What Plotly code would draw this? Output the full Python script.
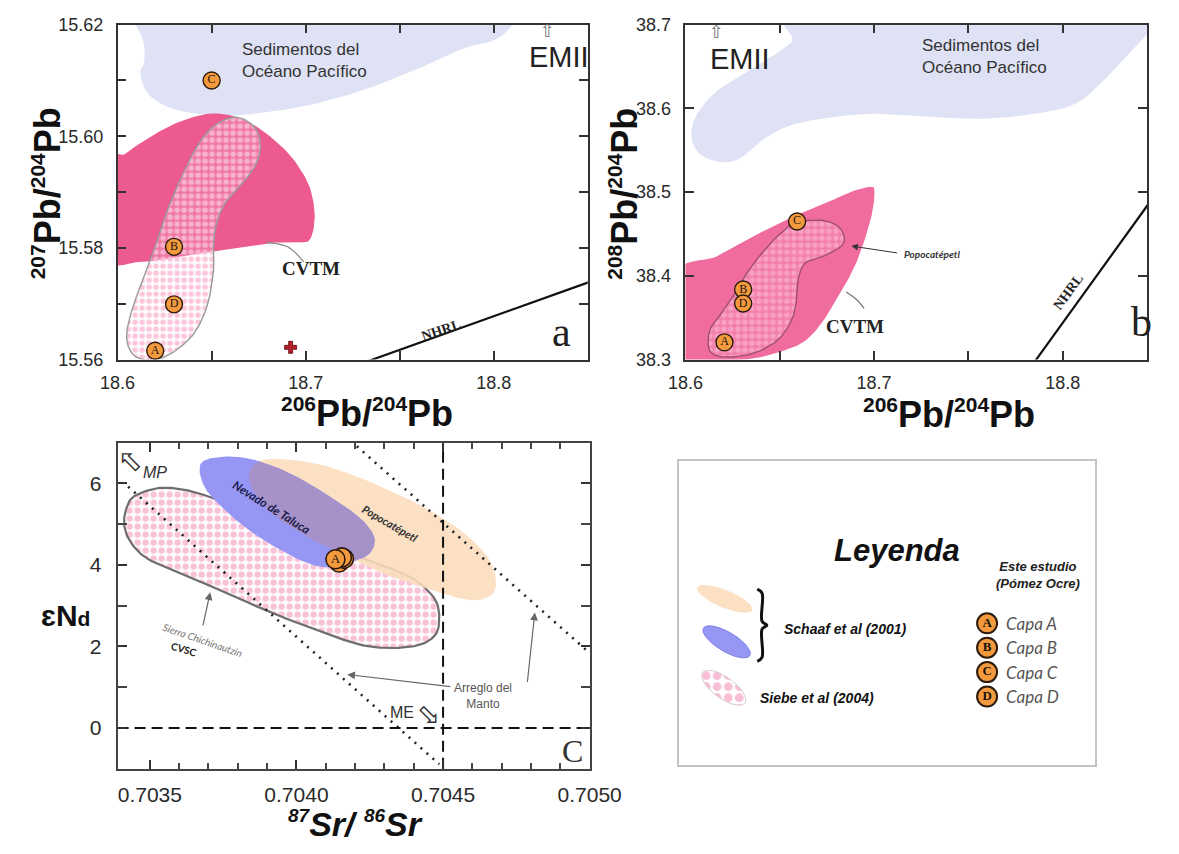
import numpy as np
import plotly.graph_objects as go

SANS = "Liberation Sans, Arial, sans-serif"
SERIF = "Liberation Serif, Times New Roman, serif"
GEOM = "Lato, Open Sans, sans-serif"
ARROWS = "DejaVu Sans, sans-serif"

ORANGE = "#f39a3f"
MAGENTA_A = "#ec5a8f"
MAGENTA_B = "#f06c9e"
PACIFIC = "#dfe2f5"
PEACH = "rgba(251,220,188,0.88)"
BLUE = "#9696f5"
OVERLAP = "#a692c8"

W, H = 1179, 854

# ---------------- Panel a: 207Pb/204Pb vs 206Pb/204Pb ----------------
sample_labels = ["A", "B", "C", "D"]
a_pb206 = [18.620, 18.630, 18.650, 18.630]
a_pb207 = [15.5616, 15.5802, 15.6100, 15.5699]
a_cross_pb206 = [18.692]
a_cross_pb207 = [15.5622]

a_pacific_pb206 = [18.610, 18.6144, 18.6121, 18.6154, 18.625, 18.6404, 18.6596, 18.6788,
                   18.7019, 18.7308, 18.7596, 18.7827, 18.8100, 18.835]
a_pacific_pb207 = [15.640, 15.6158, 15.6117, 15.6080, 15.6055, 15.6041, 15.6037, 15.6043,
                   15.6056, 15.6083, 15.6121, 15.6156, 15.6200, 15.640]

a_cvtm_pb206 = [18.595, 18.595, 18.6115, 18.631, 18.650, 18.667, 18.681, 18.694, 18.702,
                18.7048, 18.7029, 18.6981, 18.6904, 18.6788, 18.6673, 18.6558, 18.6442,
                18.6288, 18.6135, 18.6038]
a_cvtm_pb207 = [15.5953, 15.5785, 15.5775, 15.5784, 15.5793, 15.5802, 15.5809, 15.5811, 15.5814,
                15.5854, 15.5901, 15.5936, 15.5971, 15.6006, 15.6029, 15.6040, 15.6038,
                15.6020, 15.5991, 15.5968]

a_popo_pb206 = [18.6635, 18.6731, 18.676, 18.6731, 18.6654, 18.6577, 18.6529, 18.651, 18.651,
                18.6481, 18.6423, 18.6346, 18.625, 18.6154, 18.6077, 18.6048, 18.6077, 18.6135,
                18.6192, 18.625, 18.6327, 18.6423, 18.6519]
a_popo_pb207 = [15.6034, 15.6015, 15.5982, 15.5947, 15.5912, 15.5883, 15.5848, 15.5807, 15.5760,
                15.5702, 15.5655, 15.5626, 15.5605, 15.5599, 15.5611, 15.5643, 15.5690, 15.5743,
                15.5795, 15.5854, 15.5918, 15.5982, 15.6020]

a_leader_pb206 = [18.6788, 18.6904, 18.699]
a_leader_pb207 = [15.5810, 15.5802, 15.5775]

a_nhrl_pb206 = [18.733, 18.860]
a_nhrl_pb207 = [15.5597, 15.5750]

a_xticks = [18.60, 18.65, 18.70, 18.75, 18.80, 18.85]
a_xtext = ["18.6", "", "18.7", "", "18.8", ""]
a_yticks = [15.56, 15.57, 15.58, 15.59, 15.60, 15.61, 15.62]
a_ytext = ["15.56", "", "15.58", "", "15.60", "", "15.62"]

# ---------------- Panel b: 208Pb/204Pb vs 206Pb/204Pb ----------------
b_pb206 = [18.6207, 18.6306, 18.6592, 18.6306]
b_pb208 = [38.3206, 38.3837, 38.4650, 38.3670]

b_pacific_pb206 = [18.670, 18.656, 18.6353, 18.6165, 18.6053, 18.6034, 18.609, 18.6203, 18.6297,
                   18.641, 18.656, 18.6786, 18.7011, 18.7293, 18.7575, 18.7857, 18.8064, 18.8195,
                   18.8327, 18.844, 18.8515, 18.870]
b_pacific_pb208 = [38.720, 38.6787, 38.6477, 38.6206, 38.5897, 38.5626, 38.5432, 38.5355, 38.5413,
                   38.5626, 38.5800, 38.5897, 38.5935, 38.5897, 38.5877, 38.5935, 38.6051, 38.6284,
                   38.6593, 38.6864, 38.710, 38.730]

b_cvtm_pb206 = [18.595, 18.6165, 18.6353, 18.656, 18.6729, 18.688, 18.6983, 18.7002, 18.6992,
                18.6955, 18.6898, 18.6823, 18.6729, 18.6635, 18.6523, 18.6353, 18.6071, 18.595]
b_cvtm_pb208 = [38.402, 38.4232, 38.4464, 38.4696, 38.4851, 38.5006, 38.5064, 38.5006, 38.4774,
                38.4464, 38.4116, 38.3806, 38.3458, 38.3225, 38.3109, 38.3012, 38.2970, 38.2970]

b_popo_pb206 = [18.6579, 18.6711, 18.6805, 18.6842, 18.6823, 18.6729, 18.6635, 18.6598, 18.6588,
                18.656, 18.6485, 18.6353, 18.6203, 18.6128, 18.6128, 18.6184, 18.6259, 18.6316,
                18.6391, 18.6466, 18.6532]
b_popo_pb208 = [38.4638, 38.4666, 38.4600, 38.4464, 38.4348, 38.4232, 38.4154, 38.3961, 38.3690,
                38.3458, 38.3225, 38.3070, 38.3032, 38.3109, 38.3342, 38.3535, 38.3767, 38.4000,
                38.4232, 38.4426, 38.4561]

b_leader_pb206 = [18.6852, 18.6905, 18.6947]
b_leader_pb208 = [38.3806, 38.3720, 38.3613]

b_nhrl_pb206 = [18.785, 18.850]
b_nhrl_pb208 = [38.297, 38.500]

b_xticks = [18.60, 18.65, 18.70, 18.75, 18.80]
b_xtext = ["18.6", "", "18.7", "", "18.8"]
b_yticks = [38.3, 38.4, 38.5, 38.6, 38.7]
b_ytext = ["38.3", "38.4", "38.5", "38.6", "38.7"]

# ---------------- Panel c: eNd vs 87Sr/86Sr ----------------
c_sr = [0.704133, 0.704155, 0.704162, 0.704145]
c_nd = [4.139, 4.185, 4.150, 4.060]

c_cvsc_sr = [0.703419, 0.703446, 0.703526, 0.703606, 0.703699, 0.703846, 0.703980, 0.704113,
             0.704220, 0.704313, 0.704407, 0.704473, 0.704487, 0.704473, 0.704420, 0.704326,
             0.704220, 0.704086, 0.703913, 0.703740, 0.703580, 0.703486, 0.703433, 0.703413]
c_cvsc_nd = [5.367, 5.683, 5.881, 5.857, 5.683, 5.287, 4.891, 4.496,
             4.179, 3.941, 3.625, 3.150, 2.675, 2.279, 2.041, 1.962,
             2.041, 2.358, 2.833, 3.387, 3.862, 4.179, 4.575, 4.971]

c_popo_sr = [0.703900, 0.704046, 0.704180, 0.704313, 0.704447, 0.704580, 0.704660, 0.704680,
             0.704647, 0.704580, 0.704460, 0.704326, 0.704180, 0.704046, 0.703913, 0.703846,
             0.703844]
c_popo_nd = [6.594, 6.515, 6.238, 5.842, 5.367, 4.733, 4.100, 3.466,
             3.189, 3.150, 3.387, 3.704, 4.179, 4.654, 5.287, 5.921,
             6.356]

c_toluca_sr = [0.703673, 0.703740, 0.703846, 0.703980, 0.704113, 0.704220, 0.704266, 0.704246,
               0.704180, 0.704113, 0.704046, 0.703953, 0.703846, 0.703753, 0.703686]
c_toluca_nd = [6.475, 6.649, 6.594, 6.238, 5.683, 5.129, 4.654, 4.258,
               4.060, 3.941, 4.021, 4.337, 4.812, 5.367, 5.921]

c_mantle1_sr = [0.703426, 0.704487]
c_mantle1_nd = [5.921, -0.888]
c_mantle2_sr = [0.704206, 0.704993]
c_mantle2_nd = [6.911, 1.883]

c_bulk_sr = 0.7045
c_chur_nd = 0.0

c_xrange = [0.70339, 0.70500]
c_yrange = [-1.0, 7.0]
c_xticks = [0.7035, 0.7040, 0.7045, 0.7050]
c_xtext = ["0.7035", "0.7040", "0.7045", "0.7050"]
c_xminor = [0.7036, 0.7037, 0.7038, 0.7039, 0.7041, 0.7042, 0.7043, 0.7044,
            0.7046, 0.7047, 0.7048, 0.7049]
c_yticks = [0, 2, 4, 6]
c_ytext = ["0", "2", "4", "6"]
c_yminor = [1, 3, 5]

# ---------------- Legend ----------------
legend_samples = ["Capa A", "Capa B", "Capa C", "Capa D"]


def smooth_closed(xs, ys, n=10):
    """Closed Catmull-Rom curve through the outline vertices."""
    p = np.column_stack([xs, ys]).astype(float)
    m = len(p)
    out = []
    for i in range(m):
        p0, p1, p2, p3 = p[(i - 1) % m], p[i], p[(i + 1) % m], p[(i + 2) % m]
        for t in np.linspace(0, 1, n, endpoint=False):
            t2, t3 = t * t, t * t * t
            out.append(0.5 * ((2 * p1) + (-p0 + p2) * t + (2 * p0 - 5 * p1 + 4 * p2 - p3) * t2
                              + (-p0 + 3 * p1 - 3 * p2 + p3) * t3))
    out.append(out[0])
    out = np.array(out)
    return out[:, 0], out[:, 1]


def clip_polygon(subject, clip):
    """Sutherland-Hodgman clipping of one outline by a convex one."""
    def cross(u, v):
        return u[0] * v[1] - u[1] * v[0]

    c = np.asarray(clip, float)
    area = 0.5 * np.sum(c[:, 0] * np.roll(c[:, 1], -1) - np.roll(c[:, 0], -1) * c[:, 1])
    s = 1.0 if area > 0 else -1.0
    output = [np.asarray(pt, float) for pt in subject]
    for i in range(len(c)):
        a, b = c[i], c[(i + 1) % len(c)]
        e = b - a
        inp, output = output, []
        if not inp:
            break

        def inside(pt):
            return s * cross(e, pt - a) >= 0

        def inter(pp, qq):
            d = qq - pp
            t = cross(e, a - pp) / cross(e, d)
            return pp + t * d

        prev = inp[-1]
        for cur in inp:
            if inside(cur):
                if not inside(prev):
                    output.append(inter(prev, cur))
                output.append(cur)
            elif inside(prev):
                output.append(inter(prev, cur))
            prev = cur
    return np.array(output)


fig = go.Figure()


def add_field(xs, ys, xa, ya, fillcolor, line=None, pattern=None):
    sx, sy = smooth_closed(xs, ys)
    kw = dict(x=sx, y=sy, mode="lines", fill="toself", fillcolor=fillcolor,
              line=line or dict(width=0, color="rgba(0,0,0,0)"),
              xaxis=xa, yaxis=ya, hoverinfo="skip", showlegend=False)
    if pattern:
        kw["fillpattern"] = pattern
    fig.add_trace(go.Scatter(**kw))


def add_line(xs, ys, xa, ya, color, width, dash="solid", shape="linear"):
    fig.add_trace(go.Scatter(x=xs, y=ys, mode="lines", xaxis=xa, yaxis=ya,
                             line=dict(color=color, width=width, dash=dash, shape=shape),
                             hoverinfo="skip", showlegend=False))


def add_samples(xs, ys, labels, xa, ya, size, fsize, lw=1.4, bold=False):
    fig.add_trace(go.Scatter(x=xs, y=ys, mode="markers+text" if labels else "markers",
                             text=labels, textposition="middle center", xaxis=xa, yaxis=ya,
                             marker=dict(size=size, color=ORANGE, line=dict(color="#2a1a0c", width=lw)),
                             textfont=dict(family=SERIF, size=fsize, color="#1a1208",
                                           weight="bold" if bold else "normal"),
                             hoverinfo="skip", showlegend=False))


check_a = dict(shape=".", fgcolor="rgba(250,188,214,0.85)", bgcolor="rgba(255,255,255,0.18)",
               size=7, solidity=0.5, fillmode="replace")

# panel a
add_field(a_pacific_pb206, a_pacific_pb207, "x", "y", PACIFIC)
add_field(a_cvtm_pb206, a_cvtm_pb207, "x", "y", MAGENTA_A)
add_field(a_popo_pb206, a_popo_pb207, "x", "y", "rgba(255,255,255,0.18)",
          line=dict(color="#9a9a9a", width=1.4), pattern=check_a)
add_line(a_leader_pb206, a_leader_pb207, "x", "y", "#888", 1.2, shape="spline")
add_line(a_nhrl_pb206, a_nhrl_pb207, "x", "y", "#111", 2.2)
fig.add_trace(go.Scatter(x=a_cross_pb206, y=a_cross_pb207, mode="markers", xaxis="x", yaxis="y",
                         marker=dict(symbol="cross", size=10, color="#b3202a",
                                     line=dict(color="#5a0a10", width=0.8)),
                         hoverinfo="skip", showlegend=False))
add_samples(a_pb206, a_pb207, sample_labels, "x", "y", 17, 12)

# panel b
check_b = dict(shape=".", fgcolor="rgba(250,170,205,0.75)", bgcolor="rgba(255,255,255,0.12)",
               size=7, solidity=0.5, fillmode="replace")
add_field(b_pacific_pb206, b_pacific_pb208, "x2", "y2", PACIFIC)
add_field(b_cvtm_pb206, b_cvtm_pb208, "x2", "y2", MAGENTA_B)
add_field(b_popo_pb206, b_popo_pb208, "x2", "y2", "rgba(255,255,255,0.12)",
          line=dict(color="#a0506e", width=1.4), pattern=check_b)
add_line(b_leader_pb206, b_leader_pb208, "x2", "y2", "#777", 1.2, shape="spline")
add_line(b_nhrl_pb206, b_nhrl_pb208, "x2", "y2", "#111", 2.2)
add_samples(b_pb206, b_pb208, sample_labels, "x2", "y2", 17, 12)

# panel c
check_c = dict(shape=".", fgcolor="rgba(247,190,214,0.95)", bgcolor="rgba(255,255,255,0)",
               size=8, solidity=0.5, fillmode="replace")
add_field(c_cvsc_sr, c_cvsc_nd, "x3", "y3", "rgba(255,255,255,0)",
          line=dict(color="#6e6e6e", width=2.2), pattern=check_c)
add_field(c_popo_sr, c_popo_nd, "x3", "y3", PEACH)
add_field(c_toluca_sr, c_toluca_nd, "x3", "y3", BLUE)

# overlap of the Toluca and Popocatepetl fields, clipped in normalised units
sx0, sx1 = c_xrange
px, py = smooth_closed(c_popo_sr, c_popo_nd)
tx, ty = smooth_closed(c_toluca_sr, c_toluca_nd)
subj = np.column_stack([(px[:-1] - sx0) / (sx1 - sx0), (py[:-1] + 1) / 8])
clp = np.column_stack([(tx[:-1] - sx0) / (sx1 - sx0), (ty[:-1] + 1) / 8])
ov = clip_polygon(subj, clp)
if len(ov):
    ovx = list(ov[:, 0] * (sx1 - sx0) + sx0) + [ov[0, 0] * (sx1 - sx0) + sx0]
    ovy = list(ov[:, 1] * 8 - 1) + [ov[0, 1] * 8 - 1]
    fig.add_trace(go.Scatter(x=ovx, y=ovy, mode="lines", fill="toself", fillcolor=OVERLAP,
                             line=dict(width=0, color="rgba(0,0,0,0)"), xaxis="x3", yaxis="y3",
                             hoverinfo="skip", showlegend=False))

add_line(c_mantle1_sr, c_mantle1_nd, "x3", "y3", "#222", 2.6, dash="2px,6px")
add_line(c_mantle2_sr, c_mantle2_nd, "x3", "y3", "#222", 2.6, dash="2px,6px")
add_line([c_bulk_sr, c_bulk_sr], c_yrange, "x3", "y3", "#111", 2, dash="11px,6px")
add_line(c_xrange, [c_chur_nd, c_chur_nd], "x3", "y3", "#111", 2, dash="11px,6px")
# layers B-D sit under layer A; only A's letter shows
add_samples(c_sr[1:][::-1], c_nd[1:][::-1], None, "x3", "y3", 19, 13, lw=1.6)
add_samples(c_sr[:1], c_nd[:1], sample_labels[:1], "x3", "y3", 19, 13, lw=1.6)

# legend panel (pixel-unit axes)
legend_fields = [
    dict(cx=738, cy=603, a=31, b=9, ang=22, fill=PEACH, line="rgba(0,0,0,0)", pat=None),
    dict(cx=740, cy=647, a=28, b=10, ang=30, fill=BLUE, line="#7d7de0", pat=None),
    dict(cx=737, cy=694, a=27, b=11, ang=35, fill="rgba(255,255,255,0)", line="#d8c8d0",
         pat=dict(shape=".", fgcolor="rgba(246,186,212,0.95)", bgcolor="rgba(255,255,255,0)",
                  size=11, solidity=0.5, fillmode="replace")),
]
tt = np.linspace(0, 2 * np.pi, 90)
for f in legend_fields:
    th = np.radians(f["ang"])
    ex = f["cx"] + f["a"] * np.cos(th) * np.cos(tt) - f["b"] * np.sin(th) * np.sin(tt)
    ey = f["cy"] + f["a"] * np.sin(th) * np.cos(tt) + f["b"] * np.cos(th) * np.sin(tt)
    kw = dict(x=ex, y=ey, mode="lines", fill="toself", fillcolor=f["fill"],
              line=dict(color=f["line"], width=1), xaxis="x4", yaxis="y4",
              hoverinfo="skip", showlegend=False)
    if f["pat"]:
        kw["fillpattern"] = f["pat"]
    fig.add_trace(go.Scatter(**kw))

fig.add_trace(go.Scatter(x=[772, 777, 777, 782, 777, 777, 772], y=[593, 597, 626, 630, 634, 663, 667],
                         mode="lines", line=dict(color="#111", width=3, shape="spline"),
                         xaxis="x4", yaxis="y4", hoverinfo="skip", showlegend=False))
leg_y = [628, 653, 678, 703]
add_samples([1012] * 4, leg_y, sample_labels, "x4", "y4", 20, 13, lw=2, bold=True)

# ---------------- axes ----------------
frame = dict(showline=True, linecolor="#333", linewidth=1.5, mirror="allticks", ticks="inside",
             ticklen=9, tickwidth=1.5, tickcolor="#333", showgrid=False, zeroline=False,
             fixedrange=True, ticklabelstandoff=6)
tick_ab = dict(family=SANS, size=18, color="#2a2a2a")
tick_c = dict(family=SANS, size=21, color="#2a2a2a")

layout = dict(
    width=W, height=H, margin=dict(l=0, r=0, t=0, b=0),
    paper_bgcolor="white", plot_bgcolor="rgba(0,0,0,0)", font=dict(family=SANS),
    showlegend=False,
    xaxis=dict(frame, domain=[104 / W, 595 / W], range=[18.6, 18.85], tickmode="array",
               tickvals=a_xticks, ticktext=a_xtext, tickfont=tick_ab, anchor="y"),
    yaxis=dict(frame, domain=[1 - 358 / H, 1 - 15 / H], range=[15.56, 15.62], tickmode="array",
               tickvals=a_yticks, ticktext=a_ytext, tickfont=tick_ab, anchor="x",
               ticklabelstandoff=9),
    xaxis2=dict(frame, domain=[697 / W, 1.0], range=[18.6, 18.8447], tickmode="array",
                tickvals=b_xticks, ticktext=b_xtext, tickfont=tick_ab, anchor="y2"),
    yaxis2=dict(frame, domain=[1 - 358 / H, 1 - 15 / H], range=[38.3, 38.7], tickmode="array",
                tickvals=b_yticks, ticktext=b_ytext, tickfont=tick_ab, anchor="x2",
                ticklabelstandoff=9),
    xaxis3=dict(frame, domain=[104 / W, 597 / W], range=c_xrange, tickmode="array",
                tickvals=c_xticks, ticktext=c_xtext, linecolor="#444", linewidth=2,
                tickfont=tick_c,
                minor=dict(tickmode="array", tickvals=c_xminor, ticks="inside", ticklen=6,
                           tickcolor="#444", tickwidth=1.5), anchor="y3"),
    yaxis3=dict(frame, domain=[1 - 777 / H, 1 - 443 / H], range=c_yrange, tickmode="array",
                tickvals=c_yticks, ticktext=c_ytext, linecolor="#444", linewidth=2,
                tickfont=tick_c, ticklabelstandoff=10,
                minor=dict(tickmode="array", tickvals=c_yminor, ticks="inside", ticklen=9,
                           tickcolor="#444", tickwidth=1.5), anchor="x3"),
    xaxis4=dict(domain=[690 / W, 1125 / W], range=[690, 1125], showline=True, mirror=True,
                linecolor="#c4c4c4", linewidth=2, ticks="", showticklabels=False,
                showgrid=False, zeroline=False, fixedrange=True, anchor="y4"),
    yaxis4=dict(domain=[1 - 773 / H, 1 - 462 / H], range=[773, 462], showline=True, mirror=True,
                linecolor="#c4c4c4", linewidth=2, ticks="", showticklabels=False,
                showgrid=False, zeroline=False, fixedrange=True, anchor="x4"),
)

# ---------------- annotations ----------------
ann = []


def txt(x, y, text, xref, yref, size, family=SANS, color="#222", angle=0, xanchor="center",
        yanchor="middle", align="center", weight="normal", style="normal"):
    ann.append(dict(x=x, y=y, xref=xref, yref=yref, text=text, showarrow=False, textangle=angle,
                    xanchor=xanchor, yanchor=yanchor, align=align,
                    font=dict(family=family, size=size, color=color, weight=weight, style=style)))


def arrow(x, y, ax, ay, xref, yref, color="#555", width=1.2):
    ann.append(dict(x=x, y=y, ax=ax, ay=ay, xref=xref, yref=yref, axref=xref, ayref=yref,
                    text="", showarrow=True, arrowhead=2, arrowsize=1.3, arrowwidth=width,
                    arrowcolor=color))


sup = "<sup><span style='font-size:21px'>{}</span></sup>"
pb_title = "<b>" + sup.format("{}") + "Pb/" + sup.format("204") + "Pb</b>"

# axis titles
txt(364 / W, 1 - 413 / H, pb_title.format("206"), "paper", "paper", 36, color="#111")
txt(30 / W, 1 - 188 / H, pb_title.format("207"), "paper", "paper", 36, color="#111", angle=-90)
txt(972 / W, 1 - 414 / H, pb_title.format("206"), "paper", "paper", 36, color="#111")
txt(632 / W, 1 - 188 / H, pb_title.format("208"), "paper", "paper", 36, color="#111", angle=-90)
txt(352 / W, 1 - 834 / H,
    "<b><i>" + "<sup><span style='font-size:19px'>87</span></sup>" + "Sr/ "
    + "<sup><span style='font-size:19px'>86</span></sup>" + "Sr</i></b>",
    "paper", "paper", 34, color="#111")
txt(50 / W, 1 - 620 / H, "<b>\u025bN<span style='font-size:21px'>d</span></b>",
    "paper", "paper", 30, color="#111")

# panel a labels
txt(18.665, 15.6136, "Sedimentos del<br>Océano Pacífico", "x", "y", 17, xanchor="left",
    align="left", color="#333")
txt(18.8345, 15.6142, "EMII", "x", "y", 29, color="#222")
txt(18.8285, 15.6190, "\u21e7", "x", "y", 18, family=ARROWS, color="#777")
txt(18.703, 15.5763, "CVTM", "x", "y", 19, family=SERIF, weight="bold", color="#222")
txt(18.7717, 15.5652, "NHRL", "x", "y", 14, family=SERIF, weight="bold", angle=-19, color="#222")
txt(18.8360, 15.5650, "a", "x", "y", 42, family=SERIF, color="#222")

# panel b labels
txt(18.7246, 38.6620, "Sedimentos del<br>Océano Pacífico", "x2", "y2", 17, xanchor="left",
    align="left", color="#333")
txt(18.6290, 38.6590, "EMII", "x2", "y2", 29, color="#222")
txt(18.6165, 38.6920, "\u21e7", "x2", "y2", 18, family=ARROWS, color="#777")
txt(18.7150, 38.4263, "Popocatépetl", "x2", "y2", 10, family=GEOM, weight="bold", style="italic",
    xanchor="left", color="#333")
arrow(18.6880, 38.4356, 18.7130, 38.4271, "x2", "y2", color="#333", width=1)
txt(18.6900, 38.3400, "CVTM", "x2", "y2", 19, family=SERIF, weight="bold", color="#222")
txt(18.8026, 38.3806, "NHRL", "x2", "y2", 14, family=SERIF, weight="bold", angle=-54, color="#222")
txt(18.8420, 38.3450, "b", "x2", "y2", 42, family=SERIF, color="#222")

# panel c labels
txt(0.703916, 5.406, "Nevado de Taluca", "x3", "y3", 12, family=GEOM, weight="bold",
    style="italic", angle=32, color="#1c1c4a")
txt(0.704320, 5.010, "Popocatépetl", "x3", "y3", 11, family=GEOM, weight="bold",
    style="italic", angle=30, color="#333")
txt(0.703680, 2.150, "Sierra Chichinautzin", "x3", "y3", 10, family=GEOM, style="italic",
    angle=19, color="#777")
txt(0.703615, 1.940, "CVSC", "x3", "y3", 10, family=GEOM, weight="bold", angle=17, color="#222")
arrow(0.703706, 3.330, 0.703680, 2.480, "x3", "y3", color="#666")
txt(0.704635, 0.780, "Arreglo del<br>Manto", "x3", "y3", 12, color="#555")
arrow(0.704173, 1.313, 0.704530, 1.012, "x3", "y3", color="#666")
arrow(0.704813, 2.833, 0.704787, 1.091, "x3", "y3", color="#666")
txt(0.703519, 6.277, "MP", "x3", "y3", 16, style="italic", color="#333")
txt(0.703435, 6.530, "\u21e7", "x3", "y3", 30, family=ARROWS, angle=-45, color="#333")
txt(0.704360, 0.378, "ME", "x3", "y3", 16, color="#333")
txt(0.704450, 0.330, "\u21e7", "x3", "y3", 28, family=ARROWS, angle=135, color="#333")
txt(0.704940, -0.570, "C", "x3", "y3", 32, family=SERIF, color="#333")

# legend texts
txt(918, 553, "Leyenda", "x4", "y4", 31, weight="bold", style="italic", color="#111")
txt(1065, 579, "Este estudio<br>(Pómez Ocre)", "x4", "y4", 13, weight="bold", style="italic",
    color="#222")
txt(798, 634, "Schaaf et al (2001)", "x4", "y4", 14, weight="bold", style="italic",
    xanchor="left", color="#111")
txt(773, 704, "Siebe et al (2004)", "x4", "y4", 14, weight="bold", style="italic",
    xanchor="left", color="#111")
for lab, yy in zip(legend_samples, leg_y):
    txt(1030, yy, lab, "x4", "y4", 17, family=GEOM, style="italic", xanchor="left", color="#555")

layout["annotations"] = ann
fig.update_layout(**layout)
fig.write_html("out.html")
